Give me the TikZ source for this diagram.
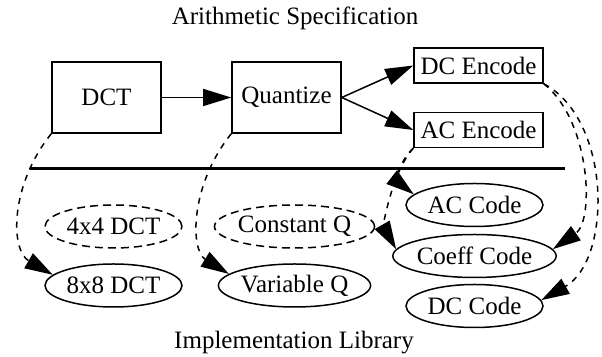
\documentclass[tikz,border=0pt]{standalone}
\usepackage{fontspec}
\setmainfont{Liberation Serif}
\usetikzlibrary{arrows.meta,shapes.geometric}

\begin{document}
\begin{tikzpicture}[x=0.5pt,y=-0.5pt]
    \tikzstyle{every node}=[font=\fontsize{12.5}{15}\selectfont]
    \tikzstyle{block}=[rectangle,draw,line width=0.75pt,minimum width=54.5pt,minimum height=35.5pt,inner sep=0pt]
    \tikzstyle{enc}=[rectangle,draw,line width=0.75pt,minimum width=64.5pt,minimum height=17.5pt,inner sep=0pt]
    \tikzstyle{impl}=[ellipse,draw,line width=0.75pt,minimum width=68.5pt,minimum height=21.5pt,inner sep=0pt]
    \tikzstyle{unused}=[impl,dash pattern=on 4pt off 2.5pt]
    \tikzstyle{flow}=[line width=0.75pt,-{Triangle[length=14pt,width=8.5pt]}]
    \tikzstyle{maps}=[flow,dash pattern=on 3pt off 3pt]
    \useasboundingbox (0,0) rectangle (602,357);
    % specification
    \node (spec) at (295,18) {Arithmetic Specification};
    \node[block] (dct) at (106.5,97.5) {DCT};
    \node[block] (qz) at (286.5,97.5) {Quantize};
    \node[enc] (dcenc) at (478.5,65.5) {DC Encode};
    \node[enc] (acenc) at (478.5,130) {AC Encode};
    \draw[flow] (dct) -- (qz);
    \draw[flow] (qz.east) -- (dcenc.west);
    \draw[flow] (qz.east) -- (acenc.west);
    % separator
    \coordinate (sepl) at (30,169);
    \coordinate (sepr) at (565,169);
    \draw[line width=1.5pt] (sepl) -- (sepr);
    % library
    \node[unused] (dctfour) at (113.5,226.5) {4x4 DCT};
    \node[impl] (dcteight) at (113.5,285.5) {8x8 DCT};
    \node[unused] (constq) at (294.5,226.5) {Constant Q};
    \node[impl] (varq) at (294.5,285.5) {Variable Q};
    \node[impl] (accode) at (474.5,205) {AC Code};
    \node[impl] (coeff) at (474.5,256) {Coeff Code};
    \node[impl] (dccode) at (474.5,306) {DC Code};
    \node (lib) at (294,343) {Implementation Library};
    % mappings
    \draw[maps] (dct.south west) .. controls (10,185) and (10,250) .. (dcteight.170);
    \draw[maps] (qz.south west) .. controls (190,185) and (190,250) .. (varq.170);
    \draw[maps] (acenc.south west) .. controls (398,162) and (398,182) .. (accode.170);
    \draw[maps] (acenc.south west) .. controls (390,175) and (384,228) .. (coeff.175);
    \draw[maps] (dcenc.south east) .. controls (590,120) and (595,220) .. (coeff.5);
    \draw[maps] (dcenc.south east) .. controls (612,120) and (612,260) .. (dccode.5);
\end{tikzpicture}
\end{document}
